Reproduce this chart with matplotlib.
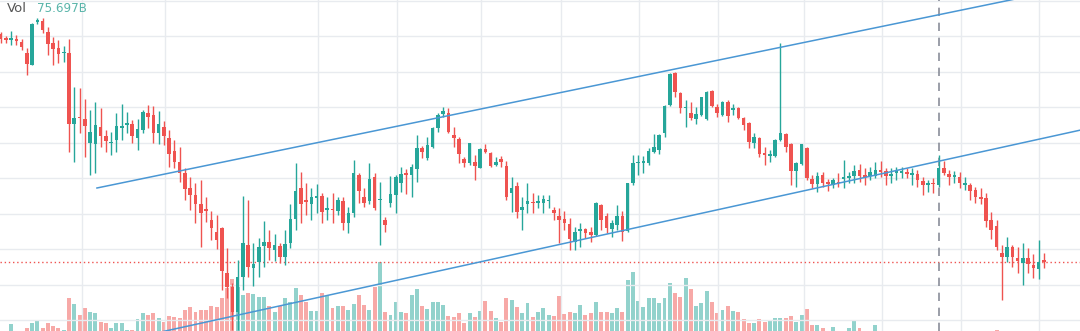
import numpy as np
import matplotlib.pyplot as plt

# daily candles, oldest first
opens = [297, 293, 291, 292, 289, 278, 266, 309, 310, 299, 288, 283, 278, 278, 207, 214, 212, 188, 187, 204,
         195, 188, 191, 203, 206, 207, 193, 201, 218, 216, 198, 204, 193, 180, 169, 158, 143, 136, 127, 122,
         111, 99, 103, 58, 44, 19, 54, 86, 63, 69, 85, 89, 81, 85, 74, 88, 112, 143, 131, 127,
         133, 135, 121, 122, 120, 130, 108, 118, 156, 134, 130, 154, 131, 111, 128, 136, 148, 158, 156, 162,
         183, 173, 184, 203, 217, 218, 196, 192, 172, 168, 169, 163, 182, 178, 166, 172, 165, 138, 145, 121,
         127, 129, 128, 128, 130, 121, 115, 112, 107, 89, 100, 102, 99, 96, 126, 115, 102, 106, 115, 100,
         148, 168, 168, 168, 179, 181, 198, 226, 258, 238, 223, 218, 212, 216, 212, 240, 224, 216, 229, 221,
         223, 213, 208, 188, 193, 178, 175, 175, 191, 197, 187, 160, 167, 183, 152, 147, 156, 149, 146, 149,
         152, 153, 155, 161, 156, 155, 155, 161, 160, 155, 158, 158, 159, 156, 157, 150, 146, 148, 146, 163,
         157, 154, 154, 146, 146, 141, 134, 133, 111, 105, 78, 74, 84, 73, 68, 73, 66, 62, 71]
highs = [299, 295, 300, 296, 292, 283, 308, 313, 313, 304, 294, 291, 285, 292, 244, 243, 232, 221, 229, 223,
         201, 199, 218, 227, 219, 211, 212, 221, 226, 225, 220, 210, 201, 191, 184, 163, 154, 148, 151, 134,
         120, 116, 104, 83, 48, 71, 135, 131, 88, 93, 110, 101, 97, 88, 101, 127, 168, 159, 148, 143,
         147, 138, 134, 138, 134, 134, 124, 171, 158, 143, 168, 158, 149, 114, 155, 156, 164, 162, 167, 196,
         185, 194, 204, 218, 224, 223, 204, 194, 174, 188, 176, 183, 187, 179, 174, 175, 170, 154, 149, 134,
         148, 138, 136, 136, 136, 124, 123, 120, 113, 104, 108, 103, 104, 129, 127, 118, 111, 126, 120, 148,
         176, 176, 175, 183, 197, 197, 226, 258, 259, 239, 231, 229, 224, 234, 240, 241, 227, 230, 231, 227,
         224, 214, 209, 198, 194, 184, 181, 192, 288, 198, 188, 169, 187, 184, 156, 159, 159, 152, 153, 158,
         171, 159, 166, 167, 163, 164, 169, 170, 163, 163, 164, 164, 163, 163, 161, 154, 151, 153, 176, 170,
         161, 160, 159, 154, 148, 144, 143, 138, 119, 111, 86, 94, 86, 84, 88, 83, 77, 91, 78]
lows = [288, 288, 286, 286, 281, 256, 266, 307, 298, 276, 266, 268, 269, 179, 169, 198, 174, 156, 158, 184,
        179, 176, 179, 191, 198, 188, 181, 198, 203, 188, 187, 186, 164, 163, 149, 131, 121, 108, 84, 109,
        91, 82, 41, 33, 1, 1, 41, 54, 45, 54, 64, 71, 70, 68, 66, 83, 101, 108, 116, 111,
        118, 108, 111, 108, 116, 101, 98, 114, 128, 124, 127, 121, 86, 99, 124, 118, 139, 137, 134, 149,
        173, 171, 183, 199, 214, 198, 184, 168, 164, 166, 151, 163, 178, 164, 165, 164, 131, 119, 113, 101,
        118, 118, 123, 118, 123, 111, 88, 101, 81, 81, 84, 93, 89, 95, 101, 98, 94, 101, 90, 99,
        146, 156, 158, 166, 178, 177, 194, 225, 234, 218, 204, 211, 207, 215, 211, 224, 214, 215, 209, 216,
        212, 201, 183, 183, 174, 166, 169, 174, 190, 179, 146, 144, 166, 151, 143, 139, 144, 140, 143, 144,
        143, 148, 148, 149, 146, 151, 153, 154, 146, 148, 151, 153, 153, 146, 144, 136, 139, 138, 144, 156,
        146, 148, 143, 141, 131, 128, 127, 104, 92, 81, 31, 69, 64, 58, 46, 58, 53, 52, 63]
closes = [292, 291, 293, 290, 284, 267, 307, 311, 301, 287, 282, 277, 279, 207, 213, 213, 205, 199, 206, 195,
          190, 189, 205, 205, 208, 195, 202, 219, 214, 198, 207, 195, 177, 169, 158, 142, 136, 127, 118, 120,
          103, 91, 60, 44, 19, 54, 88, 64, 67, 84, 89, 83, 86, 74, 87, 112, 140, 127, 129, 134,
          135, 119, 123, 121, 131, 108, 118, 158, 140, 128, 152, 123, 132, 106, 137, 154, 157, 156, 164, 183,
          179, 186, 203, 216, 220, 199, 193, 177, 168, 188, 165, 182, 179, 165, 169, 169, 134, 143, 119, 124,
          130, 128, 130, 132, 131, 118, 111, 108, 92, 99, 102, 98, 96, 128, 111, 103, 108, 115, 99, 148,
          168, 169, 170, 180, 184, 196, 225, 257, 239, 223, 224, 213, 217, 234, 239, 225, 218, 229, 215, 223,
          213, 206, 189, 194, 177, 176, 177, 191, 198, 184, 160, 168, 187, 153, 147, 155, 148, 147, 151, 148,
          154, 155, 160, 155, 154, 159, 161, 159, 155, 157, 160, 160, 157, 158, 151, 146, 148, 147, 163, 158,
          154, 156, 148, 148, 140, 134, 132, 110, 101, 84, 74, 84, 74, 70, 73, 67, 63, 69, 69]
# volume in billions
volumes = [70, 68, 102, 72, 74, 90, 105, 111, 90, 105, 96, 90, 84, 180, 162, 129, 150, 138, 135, 108,
           105, 90, 105, 105, 84, 84, 117, 135, 129, 135, 120, 108, 126, 123, 120, 144, 153, 138, 144, 144,
           156, 153, 180, 210, 237, 213, 189, 195, 192, 183, 183, 156, 138, 156, 180, 168, 210, 189, 168, 141,
           141, 195, 186, 150, 156, 156, 144, 162, 189, 159, 144, 213, 288, 138, 129, 168, 138, 135, 189, 207,
           156, 147, 168, 168, 159, 126, 123, 135, 105, 135, 123, 141, 171, 141, 120, 108, 180, 174, 153, 135,
           165, 123, 138, 150, 129, 126, 186, 132, 138, 135, 159, 129, 135, 168, 138, 138, 135, 150, 138, 234,
           258, 171, 153, 180, 180, 165, 180, 225, 195, 183, 240, 207, 156, 165, 201, 168, 135, 144, 156, 141,
           138, 117, 105, 105, 117, 108, 111, 120, 120, 120, 126, 108, 129, 147, 99, 99, 90, 75, 93, 75,
           72, 90, 114, 90, 72, 75, 99, 66, 70, 62, 68, 73, 60, 64, 71, 58, 66, 63, 75.697, 70,
           61, 65, 69, 57, 63, 72, 67, 74, 60, 84, 66, 71, 62, 68, 59, 64, 70, 65, 61]

# channel lines (candle index, price)
upper_x = [18.3, 205]
upper_y = [143, 345.5]
lower_x = [30, 205]
lower_y = [-1.5, 201]

# date gridlines and price gridlines
date_ticks = [15.5, 31.2, 60.2, 75.2, 91.2, 106.4, 121.2, 136.1, 152.4, 167.3, 182.3, 197.1]
price_ticks = [11, 46.5, 82, 117.5, 153, 188.5, 224, 259.5, 295, 330.5]
cursor_idx = 178

up_col = '#26a69a'
down_col = '#ef5350'
up_vol = '#92d2cc'
down_vol = '#f7a9a7'

o = np.array(opens, float)
c = np.array(closes, float)
h = np.array(highs, float)
l = np.array(lows, float)
v = np.array(volumes, float)
idx = np.arange(len(o))
rising = c >= o

fig = plt.figure(figsize=(10.8, 3.31), dpi=100)
ax = fig.add_axes([0, 0, 1, 1])
ax2 = ax.twinx()
ax.set_zorder(2)
ax2.set_zorder(1)
ax.patch.set_visible(False)
ax2.set_facecolor('white')

# volume underneath
ax2.bar(idx, v, width=0.75, color=np.where(rising, up_vol, down_vol), linewidth=0)
ax2.set_ylim(81, 1074)

# grid
for t in date_ticks:
    ax.axvline(t, color='#e8ebef', lw=1, zorder=0)
for t in price_ticks:
    ax.axhline(t, color='#e8ebef', lw=1, zorder=0)

# candles
cols = np.where(rising, up_col, down_col)
ax.vlines(idx, l, h, colors=cols, lw=1, zorder=3)
body_lo = np.minimum(o, c)
body_h = np.maximum(np.abs(c - o), 1.0)
ax.bar(idx, body_h, bottom=body_lo, width=0.68, color=cols, linewidth=0, zorder=4)

# trend channel
ax.plot(upper_x, upper_y, color='#4a97d4', lw=1.1, zorder=5)
ax.plot(lower_x, lower_y, color='#4a97d4', lw=1.1, zorder=5)

# last price and crosshair
ax.axhline(c[-1], color=down_col, lw=1, ls=(0, (1, 2)), zorder=2)
ax.axvline(cursor_idx, color='#8a8e99', lw=1.2, ls=(0, (5, 4)), zorder=2)

ax.set_xlim(-0.095, 204.84)
ax.set_ylim(0, 331)
for a in (ax, ax2):
    a.set_xticks([])
    a.set_yticks([])
    for s in a.spines.values():
        s.set_visible(False)

fig.text(7 / 1080, 1 - 9 / 331, 'Vol', color='#555555', fontsize=9.5, va='center', ha='left')
fig.text(37 / 1080, 1 - 9 / 331, f'{v[cursor_idx]:.3f}B', color='#5ab5aa', fontsize=8.6,
         va='center', ha='left')

fig.savefig('out.png', dpi=100)
